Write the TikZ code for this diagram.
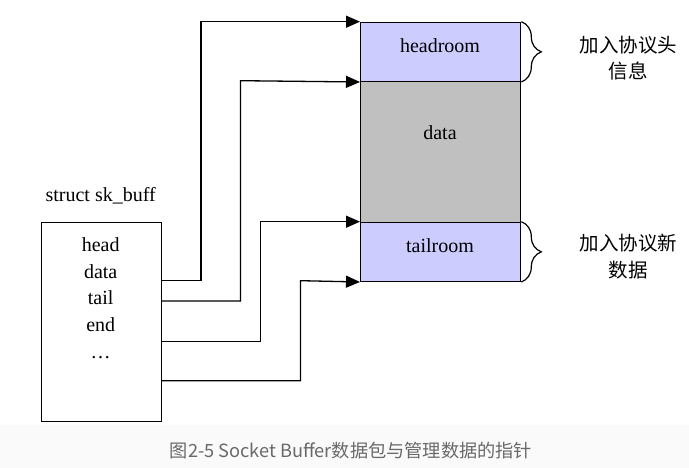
\documentclass[tikz,border=0pt]{standalone}
\usepackage{fontspec}
\setmainfont{Liberation Serif}
\newfontfamily\cjk{Noto Sans CJK SC}
\usetikzlibrary{arrows.meta,decorations.pathreplacing}

\definecolor{roomfill}{RGB}{204,204,255}
\definecolor{datafill}{RGB}{192,192,192}
\definecolor{captiongray}{RGB}{105,105,105}
\definecolor{bandgray}{RGB}{250,250,250}

\tikzset{
  room/.style={draw, line width=1.3pt, anchor=north west, inner sep=0pt, minimum width=160pt},
  field/.style={anchor=base, font=\fontsize{20}{24}\selectfont},
  note/.style={font=\cjk\fontsize{19.5}{24}\selectfont},
  ptr/.style={line width=1.3pt, -{Triangle[length=14pt,width=12pt]}},
  roombrace/.style={line width=1.2pt, decorate, decoration={brace, amplitude=20pt}},
}

\begin{document}
\begin{tikzpicture}[x=1pt,y=1pt]
        \useasboundingbox (0,0) rectangle (689,468);
        \fill[bandgray] (0,0) rectangle (689,43);

        \node[room, fill=roomfill, minimum height=59pt] (headroom) at (360,446.3) {};
        \node[room, fill=datafill, minimum height=141pt] (data) at (360,387.3) {};
        \node[room, fill=roomfill, minimum height=59pt] (tailroom) at (360,246.3) {};
        \node[room, minimum width=120pt, minimum height=199pt] (skb) at (41,246.3) {};

        \node[field] (headlbl) at (440,415.3) {headroom};
        \node[field] (datalbl) at (440,328.7) {data};
        \node[field] (taillbl) at (440,215.3) {tailroom};

        \node[field] (skbname) at (100.7,266) {struct sk\_buff};
        \node[field] (fHead) at (100.7,216.3) {head};
        \node[field] (fData) at (100.7,189.7) {data};
        \node[field] (fTail) at (100.7,163) {tail};
        \node[field] (fEnd) at (100.7,136.3) {end};
        \node[field] (fDots) at (100.7,109.7) {\dots};

        \coordinate (pHead) at (161,187.3);
        \coordinate (pData) at (161,167);
        \coordinate (pTail) at (161,126.7);
        \coordinate (pEnd) at (161,87.3);
        \coordinate (bHead) at (201,446.3);
        \coordinate (bData) at (240.5,387.3);
        \coordinate (bTail) at (260.5,246.3);
        \coordinate (bEnd) at (300.5,187.3);

        \draw[ptr] (pHead) -| (bHead) -- (headroom.north west);
        \draw[ptr] (pData) -| (bData) -- (headroom.south west);
        \draw[ptr] (pTail) -| (bTail) -- (tailroom.north west);
        \draw[ptr] (pEnd) -| (bEnd) -- (tailroom.south west);

        \draw[roombrace] (headroom.north east) -- (headroom.south east);
        \draw[roombrace] (tailroom.north east) -- (tailroom.south east);

        \node[note] (headnote1) at (628.3,423.3) {加入协议头};
        \node[note] (headnote2) at (628.3,396.7) {信息};
        \node[note] (tailnote1) at (628.3,224.7) {加入协议新};
        \node[note] (tailnote2) at (628.3,198) {数据};

        \node[font=\cjk\fontsize{18.2}{22}\selectfont, text=captiongray] (caption) at (351,17.2) {图2-5 Socket Buffer数据包与管理数据的指针};
\end{tikzpicture}
\end{document}
